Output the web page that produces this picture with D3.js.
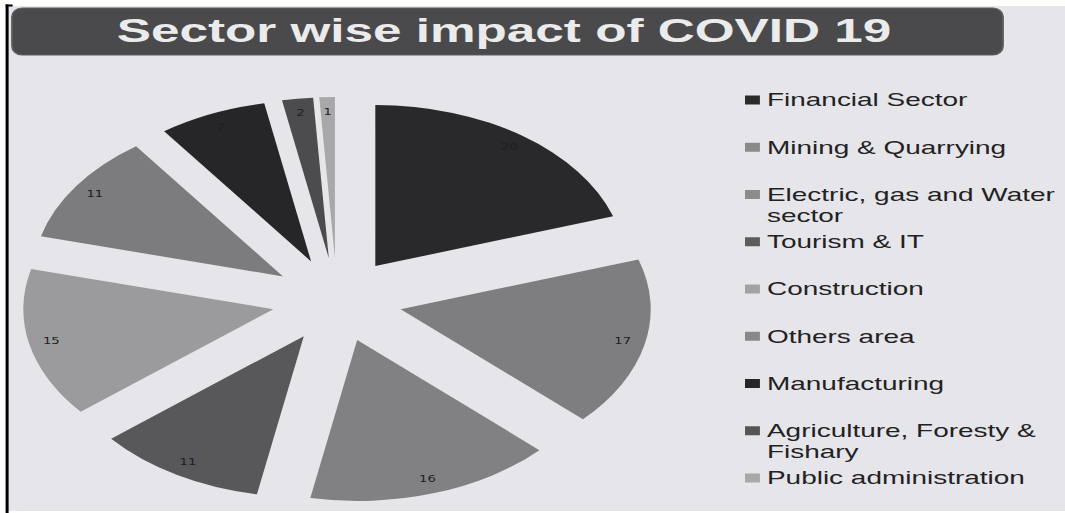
<!DOCTYPE html>
<html>
<head>
<meta charset="utf-8">
<script src="https://cdn.jsdelivr.net/npm/d3@7/dist/d3.min.js"></script>
<style>
  html, body { margin: 0; padding: 0; background: #ffffff; }
  svg { display: block; }
</style>
</head>
<body>
<script>
// Sector shares (percent) of the COVID 19 impact
const sectors = [
  "Financial Sector",
  "Mining & Quarrying",
  "Electric, gas and Water sector",
  "Tourism & IT",
  "Construction",
  "Others area",
  "Manufacturing",
  "Agriculture, Foresty & Fishary",
  "Public administration"
];
const impact = [20, 17, 16, 11, 15, 11, 7, 2, 1];
const sliceColors = ["#29282a", "#7e7e80", "#818183", "#58585a", "#9b9b9d", "#7c7c7e", "#262527", "#4c4c4e", "#a8a8aa"];
const swatchColors = ["#2b2b2b", "#8a8a8a", "#8c8c8c", "#5c5c5c", "#a2a2a2", "#888888", "#262626", "#555555", "#a8a8a8"];
const titleText = "Sector wise impact of COVID 19";

const W = 1065, H = 513;
// The slide is drawn in a narrower space and stretched sideways to the window width
const STRETCH = 1.553;
const VW = W / STRETCH;

const svg = d3.select("body").append("svg")
  .attr("width", W).attr("height", H)
  .attr("viewBox", `0 0 ${VW} ${H}`)
  .attr("preserveAspectRatio", "none");

// page frame
svg.append("rect").attr("x", 0).attr("y", 0).attr("width", VW).attr("height", H).attr("fill", "#ffffff");
svg.append("rect").attr("x", 6.8 / STRETCH).attr("y", 6).attr("width", VW).attr("height", 505).attr("fill", "#e6e5ea");
svg.append("rect").attr("x", 5.6 / STRETCH).attr("y", 4.5).attr("width", 3 / STRETCH).attr("height", H).attr("fill", "#000");
svg.append("rect").attr("x", 5.6 / STRETCH).attr("y", 4.5).attr("width", 7 / STRETCH).attr("height", 2).attr("fill", "#000");

// title banner
svg.append("rect")
  .attr("x", 12 / STRETCH).attr("y", 8)
  .attr("width", (1003 - 12) / STRETCH).attr("height", 47)
  .attr("rx", 6.5).attr("ry", 9)
  .attr("fill", "#4a4a4c")
  .attr("stroke", "#5f5f61").attr("stroke-width", 1.2);
svg.append("text")
  .attr("x", 504 / STRETCH).attr("y", 42)
  .attr("text-anchor", "middle")
  .attr("font-family", "'Liberation Sans', Arial, sans-serif")
  .attr("font-weight", "bold")
  .attr("font-size", 33)
  .attr("fill", "#ebebec")
  .text(titleText);

// exploded pie
const R = 161, explode = 42;
const cx = 217, cy = 300;
const pie = d3.pie().sort(null).value(d => d)(impact);
const arc = d3.arc().innerRadius(0).outerRadius(R);
const pieG = svg.append("g").attr("transform", `translate(${cx},${cy})`);

const slices = pieG.selectAll("g.slice").data(pie).join("g")
  .attr("class", "slice")
  .attr("transform", d => {
    const a = (d.startAngle + d.endAngle) / 2;
    return `translate(${explode * Math.sin(a)},${-explode * Math.cos(a)})`;
  });

slices.append("path")
  .attr("d", arc)
  .attr("fill", (d, i) => sliceColors[i]);

slices.append("text")
  .attr("x", d => 0.91 * R * Math.sin((d.startAngle + d.endAngle) / 2))
  .attr("y", d => -0.91 * R * Math.cos((d.startAngle + d.endAngle) / 2))
  .attr("dy", "0.35em")
  .attr("text-anchor", "middle")
  .attr("font-family", "'DejaVu Sans', sans-serif")
  .attr("font-size", 8.5)
  .attr("fill", "#1e1e1f")
  .text(d => d.data);

// legend
const legX = 745 / STRETCH, legTextX = 767 / STRETCH;
const legY = d3.scaleLinear().domain([0, sectors.length - 1]).range([100, 478]);
const lineH = 21, maxW = 192;
const legend = svg.append("g");

sectors.forEach((name, i) => {
  const y = legY(i);
  legend.append("rect")
    .attr("x", legX).attr("y", y - 4.5)
    .attr("width", 9.6).attr("height", 9)
    .attr("fill", swatchColors[i]);
  const t = legend.append("text")
    .attr("x", legTextX).attr("y", y)
    .attr("dy", "0.35em")
    .attr("font-family", "'Liberation Sans', Arial, sans-serif")
    .attr("font-size", 18)
    .attr("fill", "#222223");
  // wrap words onto a second line when they do not fit
  const words = name.split(" ");
  let line = [];
  let tspan = t.append("tspan").attr("x", legTextX);
  words.forEach(w => {
    line.push(w);
    tspan.text(line.join(" "));
    if (tspan.node().getComputedTextLength() > maxW && line.length > 1) {
      line.pop();
      tspan.text(line.join(" "));
      line = [w];
      tspan = t.append("tspan").attr("x", legTextX).attr("dy", lineH).text(w);
    }
  });
});
</script>
</body>
</html>
